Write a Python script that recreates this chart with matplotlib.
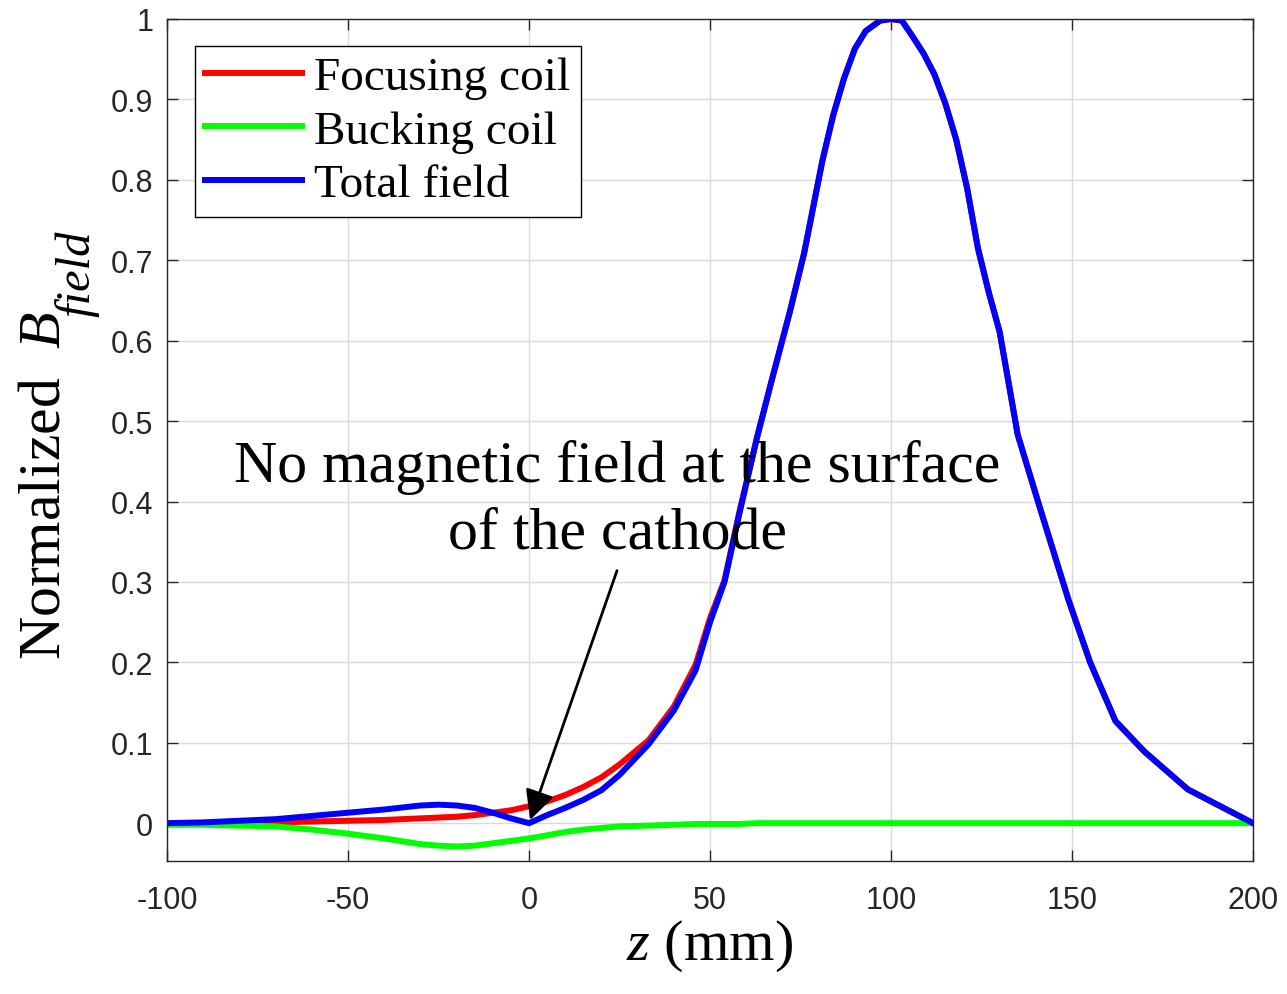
from matplotlib import pyplot

# axial position (mm) and normalized on-axis field for each coil
z_mm = [-100, -90, -80, -70, -60, -50, -40, -30, -25, -20, -15, -10, -5, 0, 5,
        10, 15, 20, 25, 33, 40, 46, 50, 54, 58, 63, 67, 72, 76, 81, 84, 87, 90,
        93, 97, 100, 103, 106, 109, 112, 115, 118, 121, 124, 127, 130, 135,
        141, 149, 155, 162, 170, 182, 200]

focusing_coil = [0.0, 0.0, 0.0, 0.001, 0.002, 0.003, 0.004, 0.006, 0.007, 0.008,
                 0.010, 0.013, 0.016, 0.021, 0.027, 0.035, 0.045, 0.057, 0.073,
                 0.103, 0.145, 0.197, 0.255, 0.302, 0.385, 0.48, 0.55, 0.635,
                 0.709, 0.823, 0.88, 0.926, 0.963, 0.985, 0.998, 1.0, 0.998,
                 0.978, 0.957, 0.931, 0.895, 0.85, 0.79, 0.715, 0.66, 0.611,
                 0.483, 0.394, 0.278, 0.2, 0.127, 0.089, 0.042, 0.0]

bucking_coil = [-0.002, -0.002, -0.003, -0.004, -0.008, -0.013, -0.019, -0.026,
                -0.028, -0.029, -0.028, -0.025, -0.022, -0.019, -0.015, -0.011,
                -0.008, -0.006, -0.004, -0.003, -0.002, -0.001, -0.001, -0.001,
                -0.001, 0.0, 0.0, 0.0, 0.0, 0.0, 0.0, 0.0, 0.0, 0.0, 0.0, 0.0,
                0.0, 0.0, 0.0, 0.0, 0.0, 0.0, 0.0, 0.0, 0.0, 0.0, 0.0, 0.0, 0.0,
                0.0, 0.0, 0.0, 0.0, 0.0]

total_field = [0.0, 0.001, 0.003, 0.005, 0.009, 0.013, 0.017, 0.022, 0.023,
               0.022, 0.019, 0.013, 0.006, 0.0, 0.010, 0.019, 0.029, 0.041,
               0.060, 0.098, 0.140, 0.190, 0.250, 0.300, 0.383, 0.48, 0.55,
               0.635, 0.709, 0.823, 0.88, 0.926, 0.963, 0.985, 0.998, 1.0,
               0.998, 0.978, 0.957, 0.931, 0.895, 0.85, 0.79, 0.715, 0.66,
               0.611, 0.483, 0.394, 0.278, 0.2, 0.127, 0.089, 0.042, 0.0]

series_labels = ['Focusing coil', 'Bucking coil', 'Total field']
series_colors = ['#ff0000', '#00ff00', '#0000ff']

x_ticks = [-100, -50, 0, 50, 100, 150, 200]
y_ticks = [0, 0.1, 0.2, 0.3, 0.4, 0.5, 0.6, 0.7, 0.8, 0.9, 1]
y_tick_labels = ['0', '0.1', '0.2', '0.3', '0.4', '0.5', '0.6', '0.7', '0.8', '0.9', '1']

pyplot.rcParams['axes.unicode_minus'] = False
pyplot.rcParams['mathtext.fontset'] = 'custom'
pyplot.rcParams['mathtext.rm'] = 'Liberation Serif'
pyplot.rcParams['mathtext.it'] = 'Liberation Serif:italic'


def plot_field_profile(save_path: str):
    fig = pyplot.figure(figsize=(12.87, 9.95), dpi=100)
    ax = fig.add_axes([0.1298, 0.1337, 0.8438, 0.8462])

    for ys, label, color in zip([focusing_coil, bucking_coil, total_field],
                                series_labels, series_colors):
        ax.plot(z_mm, ys, '-', color=color, linewidth=4.3, label=label,
                solid_joinstyle='round')

    ax.set_xlim(-100, 200)
    ax.set_ylim(-0.047, 1)
    ax.set_xticks(x_ticks)
    ax.set_yticks(y_ticks)
    ax.set_yticklabels(y_tick_labels)
    ax.grid(color='#d9d9d9', linestyle='-', linewidth=1.0)
    ax.set_axisbelow(True)
    for spine in ax.spines.values():
        spine.set_color('#262626')
        spine.set_linewidth(1.0)
    ax.tick_params(direction='in', length=8, width=1.0, color='#262626',
                   top=True, right=True, labelsize=22, labelcolor='#262626')
    ax.tick_params(axis='x', pad=17)
    ax.tick_params(axis='y', pad=10)
    for lbl in ax.get_xticklabels() + ax.get_yticklabels():
        lbl.set_fontfamily('Liberation Sans')

    ax.set_xlabel('$z$ (mm)', fontsize=42, family='Liberation Serif', labelpad=2)
    # y label with a deep subscript, drawn as two rotated pieces
    fig.text(0.0355, 0.3367, 'Normalized  $B$', fontsize=43, family='Liberation Serif',
             rotation=90, ha='center', va='bottom')
    fig.text(0.0595, 0.6814, 'field', fontsize=35, family='Liberation Serif',
             style='italic', rotation=90, ha='center', va='bottom')

    ax.text(24.3, 0.402, 'No magnetic field at the surface\nof the cathode',
            fontsize=43, family='Liberation Serif', ha='center', va='center',
            multialignment='center', linespacing=1.32)
    ax.annotate('', xy=(0.3, 0.004), xytext=(24.3, 0.314),
                arrowprops=dict(arrowstyle='-|>', color='black', lw=2,
                                mutation_scale=45, shrinkA=0, shrinkB=0))

    leg = ax.legend(loc='upper left', bbox_to_anchor=(0.0258, 0.968),
                    borderaxespad=0, fancybox=False, framealpha=1,
                    edgecolor='black', prop={'family': 'Liberation Serif', 'size': 34},
                    handlelength=2.05, handletextpad=0.25, labelspacing=0.22,
                    borderpad=0.22)
    leg.get_frame().set_linewidth(1.0)

    fig.savefig(save_path, dpi=100)
    pyplot.close(fig)


plot_field_profile('out.png')
